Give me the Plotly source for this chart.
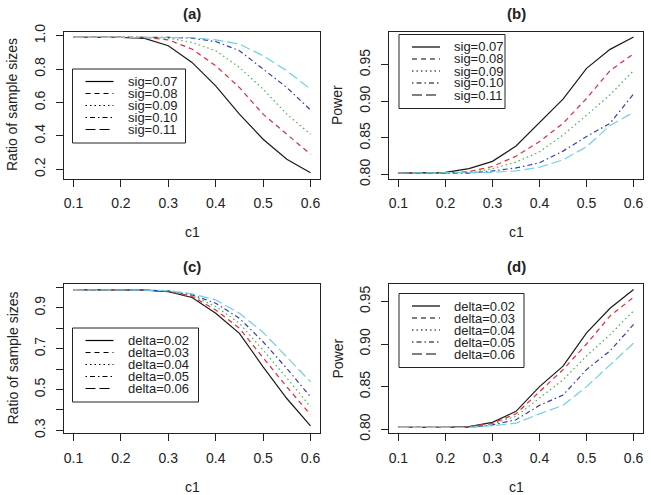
import plotly.graph_objects as go
from plotly.subplots import make_subplots

# ---- data ----
c1 = [0.1, 0.15, 0.2, 0.25, 0.3, 0.35, 0.4, 0.45, 0.5, 0.55, 0.6]

sig_labels = ["sig=0.07", "sig=0.08", "sig=0.09", "sig=0.10", "sig=0.11"]
delta_labels = ["delta=0.02", "delta=0.03", "delta=0.04", "delta=0.05", "delta=0.06"]

ratio_sig_007 = [0.99, 0.99, 0.99, 0.984, 0.94, 0.84, 0.70, 0.53, 0.38, 0.26, 0.18]
ratio_sig_008 = [0.99, 0.99, 0.99, 0.99, 0.975, 0.92, 0.82, 0.69, 0.53, 0.41, 0.29]
ratio_sig_009 = [0.99, 0.99, 0.99, 0.99, 0.985, 0.96, 0.91, 0.81, 0.68, 0.53, 0.41]
ratio_sig_010 = [0.99, 0.99, 0.99, 0.99, 0.99, 0.985, 0.965, 0.91, 0.80, 0.69, 0.555]
ratio_sig_011 = [0.99, 0.99, 0.99, 0.99, 0.99, 0.988, 0.975, 0.95, 0.88, 0.79, 0.68]

power_sig_007 = [0.802, 0.802, 0.803, 0.808, 0.818, 0.839, 0.871, 0.903, 0.945, 0.971, 0.988]
power_sig_008 = [0.802, 0.802, 0.802, 0.804, 0.811, 0.825, 0.845, 0.870, 0.904, 0.942, 0.965]
power_sig_009 = [0.802, 0.802, 0.802, 0.803, 0.808, 0.817, 0.831, 0.854, 0.881, 0.909, 0.942]
power_sig_010 = [0.802, 0.802, 0.802, 0.802, 0.805, 0.809, 0.816, 0.832, 0.852, 0.870, 0.910]
power_sig_011 = [0.802, 0.802, 0.802, 0.802, 0.803, 0.805, 0.810, 0.820, 0.838, 0.867, 0.885]

ratio_delta_002 = [0.989, 0.989, 0.989, 0.987, 0.980, 0.951, 0.874, 0.775, 0.611, 0.456, 0.322]
ratio_delta_003 = [0.989, 0.989, 0.989, 0.987, 0.981, 0.956, 0.890, 0.800, 0.656, 0.513, 0.377]
ratio_delta_004 = [0.989, 0.989, 0.989, 0.987, 0.982, 0.960, 0.907, 0.825, 0.693, 0.557, 0.415]
ratio_delta_005 = [0.989, 0.989, 0.989, 0.987, 0.983, 0.964, 0.923, 0.849, 0.734, 0.603, 0.464]
ratio_delta_006 = [0.989, 0.989, 0.989, 0.987, 0.984, 0.969, 0.939, 0.874, 0.780, 0.661, 0.538]

power_delta_002 = [0.802, 0.802, 0.802, 0.803, 0.808, 0.821, 0.850, 0.874, 0.913, 0.942, 0.964]
power_delta_003 = [0.802, 0.802, 0.802, 0.803, 0.807, 0.818, 0.844, 0.870, 0.900, 0.933, 0.955]
power_delta_004 = [0.802, 0.802, 0.802, 0.803, 0.806, 0.815, 0.836, 0.858, 0.886, 0.911, 0.939]
power_delta_005 = [0.802, 0.802, 0.802, 0.802, 0.805, 0.811, 0.828, 0.840, 0.870, 0.892, 0.923]
power_delta_006 = [0.802, 0.802, 0.802, 0.802, 0.804, 0.807, 0.818, 0.828, 0.850, 0.876, 0.901]

# R palette 1..5 and lty 1..5
colors = ["#1a1a1a", "#e8283a", "#3cb84a", "#3c3ca8", "#6fd0e0"]
dashes = ["solid", "5px,4px", "1.5px,3px", "1.5px,3px,5px,3px", "10px,4px"]

W, H = 651, 495
FONT = "Liberation Sans, Arial, Helvetica, sans-serif"
INK = "#222222"

panels = [
    # (row, col, series, labels, title, ylabel, yrange, tickvals, ticktext, legend(left, top, width))
    (1, 1, [ratio_sig_007, ratio_sig_008, ratio_sig_009, ratio_sig_010, ratio_sig_011], sig_labels,
     "(a)", "Ratio of sample sizes", [0.145, 1.025],
     [0.2, 0.4, 0.6, 0.8, 1.0], ["0.2", "0.4", "0.6", "0.8", "1.0"], (72.5, 69, 113)),
    (1, 2, [power_sig_007, power_sig_008, power_sig_009, power_sig_010, power_sig_011], sig_labels,
     "(b)", "Power", [0.7946, 0.9954],
     [0.80, 0.85, 0.90, 0.95], ["0.80", "0.85", "0.90", "0.95"], (399, 34.5, 106)),
    (2, 1, [ratio_delta_002, ratio_delta_003, ratio_delta_004, ratio_delta_005, ratio_delta_006], delta_labels,
     "(c)", "Ratio of sample sizes", [0.287, 1.017],
     [0.3, 0.4, 0.5, 0.6, 0.7, 0.8, 0.9, 1.0], ["0.3", "", "0.5", "", "0.7", "", "0.9", ""], (72.5, 328, 126)),
    (2, 2, [power_delta_002, power_delta_003, power_delta_004, power_delta_005, power_delta_006], delta_labels,
     "(d)", "Power", [0.7955, 0.9705],
     [0.80, 0.85, 0.90, 0.95], ["0.80", "0.85", "0.90", "0.95"], (399, 293.5, 125)),
]

# plot-box positions in pixels: (left, right), (top, bottom)
col_px = {1: (64, 320), 2: (389, 643)}
row_px = {1: (31.5, 178.5), 2: (284, 433)}

fig = make_subplots(rows=2, cols=2)

shapes = []
annotations = []


def px_x(x):
    return x / W


def px_y(y):
    return 1 - y / H


def label(text, x, y, size, angle=0, xanchor="center"):
    return dict(text=text, x=px_x(x), y=px_y(y), xref="paper", yref="paper",
                xanchor=xanchor, yanchor="middle", textangle=angle, showarrow=False,
                font=dict(family=FONT, size=size, color=INK))


for row, col, series, labels, title, ylabel, yrange, tv, tt, leg in panels:
    for vals, lab, c, d in zip(series, labels, colors, dashes):
        fig.add_trace(
            go.Scatter(x=c1, y=vals, mode="lines", name=lab,
                       line=dict(color=c, width=1.2, dash=d), showlegend=False),
            row=row, col=col,
        )
    l, r = col_px[col]
    t, b = row_px[row]
    fig.update_xaxes(
        domain=[px_x(l), px_x(r)], range=[0.08, 0.62], automargin=False,
        tickvals=[0.1, 0.2, 0.3, 0.4, 0.5, 0.6], ticktext=["0.1", "0.2", "0.3", "0.4", "0.5", "0.6"],
        ticks="outside", ticklen=7, tickcolor=INK, ticklabelstandoff=5,
        showline=True, mirror=True, linecolor=INK, linewidth=1,
        showgrid=False, zeroline=False,
        tickfont=dict(family=FONT, size=14, color=INK),
        row=row, col=col,
    )
    fig.update_yaxes(
        domain=[px_y(b), px_y(t)], range=yrange, automargin=False,
        tickvals=tv, ticktext=tt, tickangle=-90,
        ticks="outside", ticklen=7, tickcolor=INK, ticklabelstandoff=5,
        showline=True, mirror=True, linecolor=INK, linewidth=1,
        showgrid=False, zeroline=False,
        tickfont=dict(family=FONT, size=14, color=INK),
        row=row, col=col,
    )

    # panel title, x label, y label
    annotations.append(label("<b>%s</b>" % title, (l + r) / 2, t - 17.5, 15))
    annotations.append(label("c1", (l + r) / 2, b + 53.5, 14))
    annotations.append(label(ylabel, l - 52, (t + b) / 2, 14, angle=-90))

    # hand-made legend box (R style, black keys)
    lx, ly, lw = leg
    row_h = 12
    shapes.append(dict(type="rect", xref="paper", yref="paper",
                       x0=px_x(lx), x1=px_x(lx + lw), y0=px_y(ly), y1=px_y(ly + 74),
                       line=dict(color=INK, width=1), fillcolor="white", layer="above"))
    for i, (lab, d) in enumerate(zip(labels, dashes)):
        yy = ly + 12.5 + i * row_h
        shapes.append(dict(type="line", xref="paper", yref="paper",
                           x0=px_x(lx + 13), x1=px_x(lx + 41), y0=px_y(yy), y1=px_y(yy),
                           line=dict(color="black", width=1.2, dash=d), layer="above"))
        annotations.append(label(lab, lx + 53, yy, 13, xanchor="left"))

fig.update_layout(
    template="none",
    width=W, height=H,
    margin=dict(l=0, r=0, t=0, b=0),
    paper_bgcolor="white", plot_bgcolor="white",
    shapes=shapes, annotations=annotations,
    showlegend=False, hovermode=False,
)

# drop the browser's default 8px body margin so the figure sits at the page corner
fig.write_html("out.html", config={"displayModeBar": False},
               post_script="document.body.style.margin='0';")
